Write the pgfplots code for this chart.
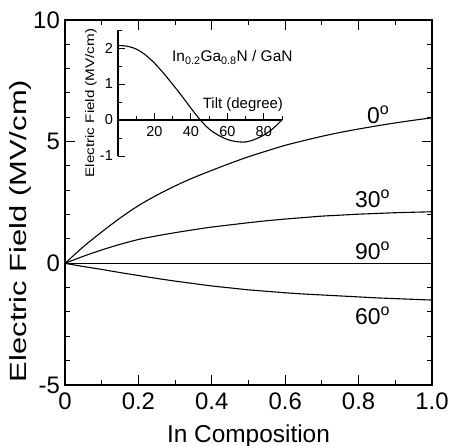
\documentclass[border=0pt]{standalone}
\usepackage{fontspec}
\setmainfont{Liberation Sans}
\usepackage{pgfplots}
\pgfplotsset{compat=1.18}
\begin{document}
\begin{tikzpicture}
\path[use as bounding box] (0bp,0bp) rectangle (450bp,446bp);
\begin{axis}[
  at={(65bp,61bp)}, anchor=south west, scale only axis,
  width=367bp, height=365bp,
  xmin=0, xmax=1, ymin=-5, ymax=10,
  xtick={0,0.2,0.4,0.6,0.8,1.0},
  xticklabels={0,0.2,0.4,0.6,0.8,1.0},
  minor xtick={0.1,0.3,0.5,0.7,0.9},
  ytick={-5,0,5,10},
  minor ytick={-4,-3,-2,-1,1,2,3,4,6,7,8,9},
  tick align=inside, xtick pos=both, ytick pos=both,
  major tick length=10bp, minor tick length=5bp,
  axis line style={line width=1.2bp},
  every tick/.style={line width=1bp, black},
  /pgf/number format/assume math mode=true,
  ticklabel style={font=\fontsize{24}{28}\selectfont},
  yticklabel style={inner sep=0bp, xshift=-5bp},
  xticklabel style={inner sep=0bp, yshift=-8bp},
  clip=false,
]
\addplot[black, line width=1.1bp, smooth] coordinates {
(0,0) (0.05,0.68) (0.1,1.29) (0.15,1.86) (0.2,2.37) (0.25,2.80) (0.3,3.18)
(0.35,3.52) (0.4,3.82) (0.45,4.11) (0.5,4.38) (0.55,4.62) (0.6,4.85)
(0.65,5.04) (0.7,5.22) (0.75,5.38) (0.8,5.52) (0.85,5.65) (0.9,5.77)
(0.95,5.88) (1.0,5.98)};
\addplot[black, line width=1.1bp, smooth] coordinates {
(0,0) (0.05,0.29) (0.1,0.55) (0.15,0.78) (0.2,0.98) (0.25,1.13) (0.3,1.26)
(0.35,1.38) (0.4,1.49) (0.45,1.58) (0.5,1.67) (0.55,1.75) (0.6,1.82)
(0.65,1.88) (0.7,1.94) (0.75,1.98) (0.8,2.02) (0.85,2.05) (0.9,2.08)
(0.95,2.10) (1.0,2.12)};
\addplot[black, line width=1.1bp] coordinates {(0,0) (1.0,0)};
\addplot[black, line width=1.1bp, smooth] coordinates {
(0,0) (0.05,-0.13) (0.1,-0.25) (0.15,-0.38) (0.2,-0.50) (0.25,-0.62) (0.3,-0.73)
(0.35,-0.83) (0.4,-0.93) (0.45,-1.01) (0.5,-1.09) (0.55,-1.15) (0.6,-1.21)
(0.65,-1.26) (0.7,-1.30) (0.75,-1.34) (0.8,-1.38) (0.85,-1.42) (0.9,-1.45)
(0.95,-1.48) (1.0,-1.51)};
\node[anchor=base west, inner sep=0pt, font=\fontsize{23}{27}\selectfont] at (axis cs:0.823,5.75) {0\textsuperscript{o}};
\node[anchor=base west, inner sep=0pt, font=\fontsize{23}{27}\selectfont] at (axis cs:0.790,2.30) {30\textsuperscript{o}};
\node[anchor=base west, inner sep=0pt, font=\fontsize{23}{27}\selectfont] at (axis cs:0.790,0.16) {90\textsuperscript{o}};
\node[anchor=base west, inner sep=0pt, font=\fontsize{23}{27}\selectfont] at (axis cs:0.790,-2.51) {60\textsuperscript{o}};
\end{axis}
\begin{axis}[
  at={(118bp,290bp)}, anchor=south west, scale only axis,
  width=164bp, height=126bp,
  xmin=0, xmax=90, ymin=-1, ymax=2.5,
  axis x line*=middle, axis y line*=left,
  xtick={20,40,60,80}, minor xtick={10,30,50,70,90},
  ytick={-1,0,1,2}, minor ytick={-0.5,0.5,1.5,2.5},
  hide obscured y ticks=false, hide obscured x ticks=false,
  tick align=inside,
  major tick length=7bp, minor tick length=4bp,
  axis line style={line width=1.1bp},
  every tick/.style={line width=0.9bp, black},
  /pgf/number format/assume math mode=true,
  ticklabel style={font=\fontsize{14.5}{17}\selectfont},
  yticklabel style={inner sep=0bp, xshift=-5bp},
  xticklabel style={inner sep=0bp, yshift=-6bp},
  clip=false,
]
\addplot[black, line width=1.1bp, smooth] coordinates {
(0,2.07) (5,2.05) (10,1.97) (15,1.81) (20,1.58) (25,1.30) (30,0.99) (35,0.67)
(40,0.33) (45,0.01) (50,-0.25) (55,-0.42) (60,-0.54) (65,-0.60) (70,-0.61)
(75,-0.54) (80,-0.42) (85,-0.24) (90,0.0)};
\end{axis}
\node[anchor=base west, inner sep=0pt, font=\fontsize{15.5}{18}\selectfont] at (172bp,384.3bp) {In\textsubscript{0.2}Ga\textsubscript{0.8}N / GaN};
\node[anchor=base west, inner sep=0pt, font=\fontsize{15}{18}\selectfont] at (202.7bp,337bp) {Tilt (degree)};
\node[rotate=90, inner sep=0pt] at (91bp,343bp) {\scalebox{1.23}[1]{\fontsize{12.4}{15}\selectfont Electric Field (MV/cm)}};
\node[rotate=90, inner sep=0pt] at (20bp,215bp) {\scalebox{1.32}[1]{\fontsize{23.5}{28}\selectfont Electric Field (MV/cm)}};
\node[anchor=base, inner sep=0pt, font=\fontsize{24.5}{29}\selectfont] at (248.5bp,4bp) {In Composition};
\end{tikzpicture}
\end{document}
